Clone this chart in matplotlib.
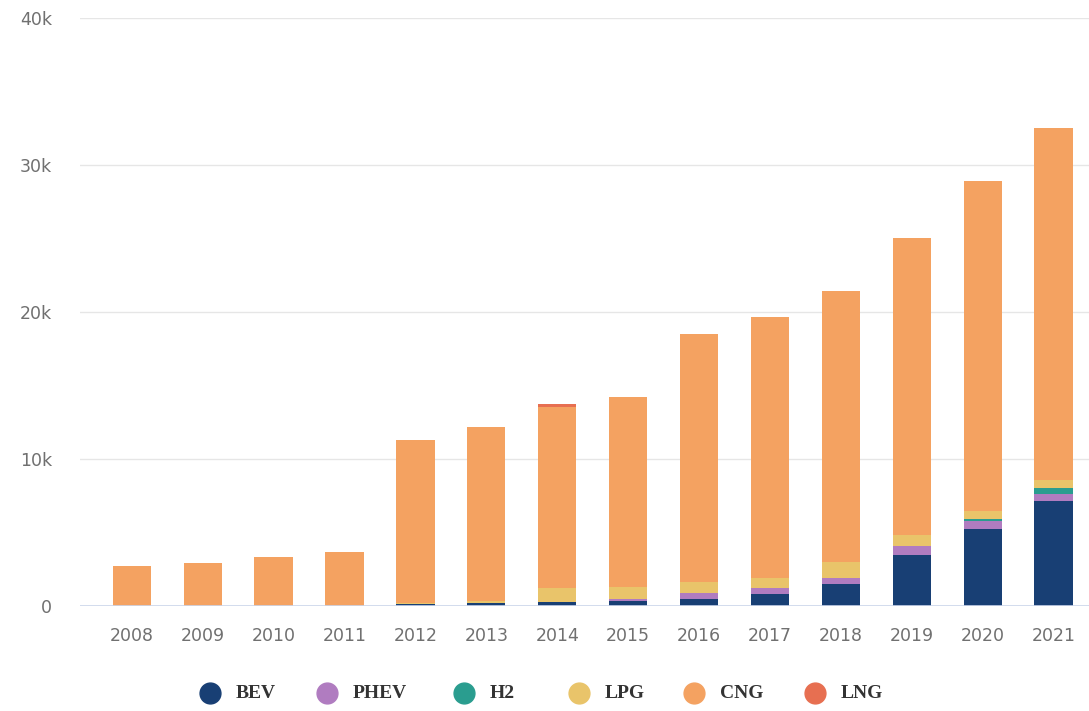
import matplotlib
matplotlib.use("Agg")
import matplotlib.pyplot as plt
from matplotlib.lines import Line2D
import numpy as np

years = ["2008", "2009", "2010", "2011", "2012", "2013", "2014",
         "2015", "2016", "2017", "2018", "2019", "2020", "2021"]

# Registered vehicles by alternative fuel type
bev  = [0, 0, 0, 0, 120, 200, 250, 350, 500, 800, 1500, 3500, 5250, 7150]
phev = [0, 0, 0, 0, 0, 20, 50, 100, 350, 450, 400, 550, 550, 500]
h2   = [0, 0, 0, 0, 0, 0, 0, 0, 0, 0, 0, 50, 100, 350]
lpg  = [0, 0, 0, 0, 100, 150, 900, 850, 750, 650, 1100, 700, 550, 600]
cng  = [2700, 2950, 3300, 3650, 11080, 11830, 12350, 12950, 16900, 17750,
        18450, 20200, 22450, 23900]
lng  = [0, 0, 0, 0, 0, 0, 200, 0, 0, 0, 0, 0, 0, 0]

series = [("BEV", bev, "#183f74"),
          ("PHEV", phev, "#b07cc0"),
          ("H2", h2, "#2a9d8f"),
          ("LPG", lpg, "#e9c46a"),
          ("CNG", cng, "#f4a261"),
          ("LNG", lng, "#e76f51")]

fig = plt.figure(figsize=(10.89, 7.11), dpi=100)
ax = fig.add_axes([0.0735, 0.1477, 0.9265, 0.827])

x = np.arange(len(years))
bottom = np.zeros(len(years))
for name, vals, color in series:
    vals = np.array(vals, dtype=float)
    ax.bar(x, vals, width=0.54, bottom=bottom, color=color, zorder=3,
           linewidth=0)
    bottom += vals

ax.set_xlim(-0.73, 13.5)
ax.set_ylim(0, 40000)
ax.set_yticks([0, 10000, 20000, 30000, 40000])
ax.set_yticklabels(["0", "10k", "20k", "30k", "40k"])
ax.set_xticks(x)
ax.set_xticklabels(years)

for s in ax.spines.values():
    s.set_visible(False)
ax.axhline(0, color="#ccd6eb", linewidth=1.2, zorder=4)
ax.grid(axis="y", color="#e6e6e6", linewidth=1, zorder=0)
ax.tick_params(axis="both", length=0, labelsize=12.5, labelcolor="#707070")
ax.tick_params(axis="y", pad=20)
ax.tick_params(axis="x", pad=15)
for lab in ax.get_xticklabels() + ax.get_yticklabels():
    lab.set_family("DejaVu Sans")

# Legend row along the bottom
legend_x = [210, 327, 464, 579, 694, 815]
legend_y = 1 - 693 / 711
for (name, vals, color), px in zip(series, legend_x):
    fx = px / 1089
    fig.add_artist(Line2D([fx], [legend_y], marker="o", markersize=15,
                          color=color, linestyle="none",
                          transform=fig.transFigure))
    fig.text(fx + 26 / 1089, legend_y, name, ha="left", va="center",
             fontsize=14, color="#333333", family="Liberation Serif",
             fontweight="bold")

fig.savefig("out.png", dpi=100, facecolor="white")
